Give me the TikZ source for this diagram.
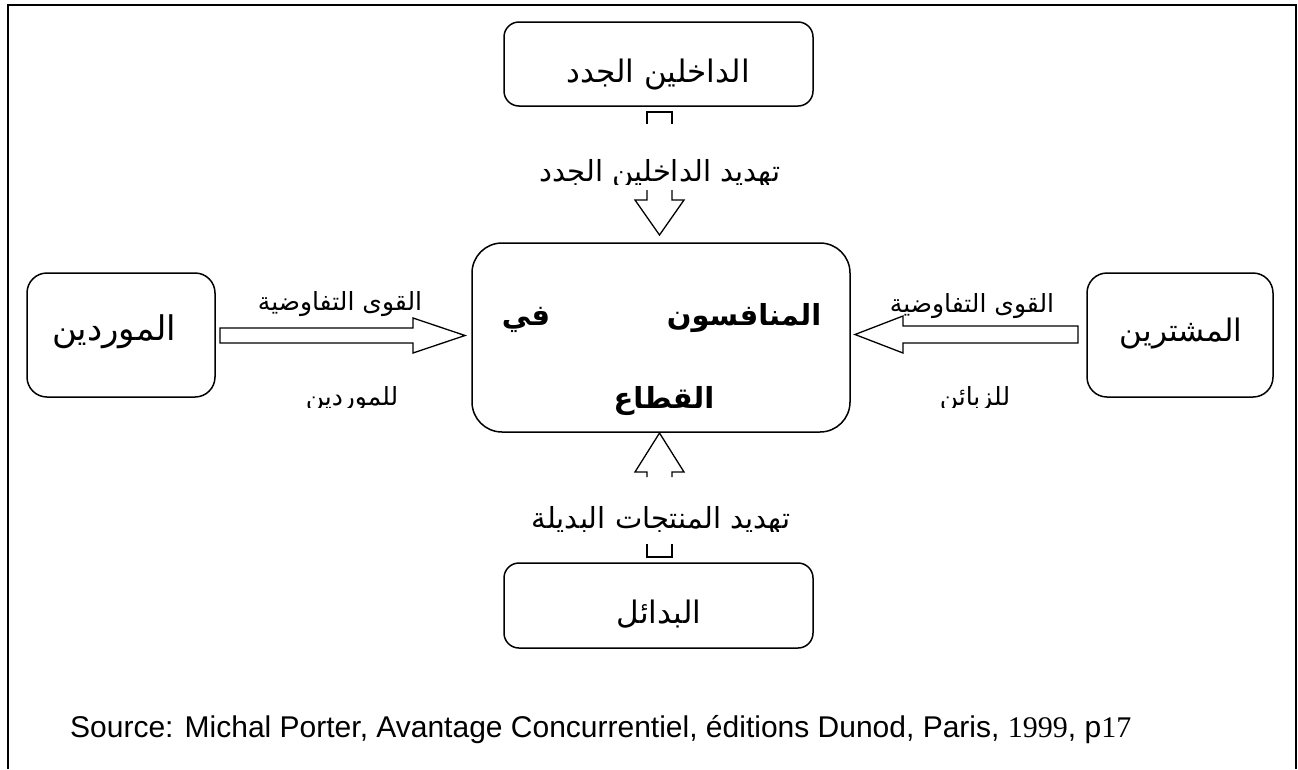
\documentclass[tikz,border=0pt]{standalone}
\usepackage{fontspec}
\setmainfont{Liberation Sans}
\newfontfamily\arabicfont[Script=Arabic]{DejaVu Sans}
\newfontfamily\digitfont{Liberation Serif}
\TeXXeTstate=1
\newcommand{\artxt}[1]{\arabicfont\beginR #1\endR}
\tikzset{
  box/.style={draw, line width=1.5pt, inner sep=0pt},
  boxlabel/.style={inner sep=0pt, anchor=base, font=\fontsize{31}{34}\selectfont},
  mainlabel/.style={inner sep=0pt, anchor=base, font=\fontsize{29}{32}\selectfont\bfseries},
  arrlabel/.style={inner sep=0pt, anchor=base, font=\fontsize{25}{28}\selectfont},
  vlabel/.style={inner sep=0pt, anchor=base, font=\fontsize{29}{32}\selectfont},
  blockarrow/.style={draw, line width=1.3pt, line join=miter},
}
\begin{document}
\begin{tikzpicture}[x=1pt,y=-1pt]
\useasboundingbox (0,0) rectangle (1298,769);
% frame
\draw[line width=2pt] (8,769) -- (8,5) -- (1296,5) -- (1296,769);

% boxes
\node[box, rounded corners=15pt, minimum width=309pt, minimum height=84pt] (entrants) at (658.5,64) {};
\node[box, rounded corners=30pt, minimum width=378pt, minimum height=189pt] (rivals) at (661,337.5) {};
\node[box, rounded corners=20pt, minimum width=188pt, minimum height=124pt] (suppliers) at (121,335) {};
\node[box, rounded corners=20pt, minimum width=186pt, minimum height=124pt] (buyers) at (1180,335) {};
\node[box, rounded corners=15pt, minimum width=309pt, minimum height=85pt] (substitutes) at (658.5,605.5) {};

% box texts
\node[boxlabel] (tEntrants) at (658,82) {\artxt{الداخلين الجدد}};
\node[boxlabel, font=\fontsize{34}{36}\selectfont] (tSuppliers) at (114,340) {\artxt{الموردين}};
\node[boxlabel] (tBuyers) at (1181,341) {\artxt{المشترين}};
\node[boxlabel] (tSubst) at (659,623) {\artxt{البدائل}};
\node[mainlabel] (tR1) at (744,325) {\artxt{المنافسون}};
\node[mainlabel] (tR2) at (526,325) {\artxt{في}};
\node[mainlabel] (tR3) at (664,408) {\artxt{القطاع}};

% vertical block arrows (shaft partly hidden behind labels)
\draw[blockarrow] (647,124) -- (647,112) -- (672,112) -- (672,124);
\draw[blockarrow] (647,190) -- (647,200) -- (635,200) -- (659.5,235) -- (684,200) -- (672,200) -- (672,190);
\draw[blockarrow] (647,477) -- (647,472) -- (635,472) -- (659.5,433) -- (684,472) -- (672,472) -- (672,477);
\draw[blockarrow] (647,544) -- (647,557) -- (672,557) -- (672,544);

% horizontal block arrows
\draw[blockarrow] (220,328) -- (413,328) -- (413,318) -- (465,335.5) -- (413,353) -- (413,343) -- (220,343) -- cycle;
\draw[blockarrow] (1078,326) -- (903,326) -- (903,316) -- (855,334.5) -- (903,353) -- (903,343) -- (1078,343) -- cycle;

% arrow labels
\node[arrlabel] (lSupTop) at (340,310) {\artxt{القوى التفاوضية}};
\node[arrlabel] (lBuyTop) at (972,312) {\artxt{القوى التفاوضية}};
\begin{scope}
\clip (250,370) rectangle (450,407.5);
\node[arrlabel] (lSupBot) at (352,405) {\artxt{للموردين}};
\end{scope}
\begin{scope}
\clip (900,370) rectangle (1050,407.5);
\node[arrlabel] (lBuyBot) at (975,405) {\artxt{للزبائن}};
\end{scope}
\begin{scope}
\clip (500,130) rectangle (820,184);
\node[vlabel] (lTop) at (660,181) {\artxt{تهديد الداخلين الجدد}};
\end{scope}
\begin{scope}
\clip (500,485) rectangle (820,531);
\node[vlabel] (lBot) at (661,528) {\artxt{تهديد المنتجات البديلة}};
\end{scope}

% source
\node[anchor=base west, inner sep=0pt, font=\fontsize{30}{34}\selectfont] (source) at (70,737)
  {Source: Michal Porter, Avantage Concurrentiel, éditions Dunod, Paris, {\digitfont 1999}, p{\digitfont 17}};
\end{tikzpicture}
\end{document}
